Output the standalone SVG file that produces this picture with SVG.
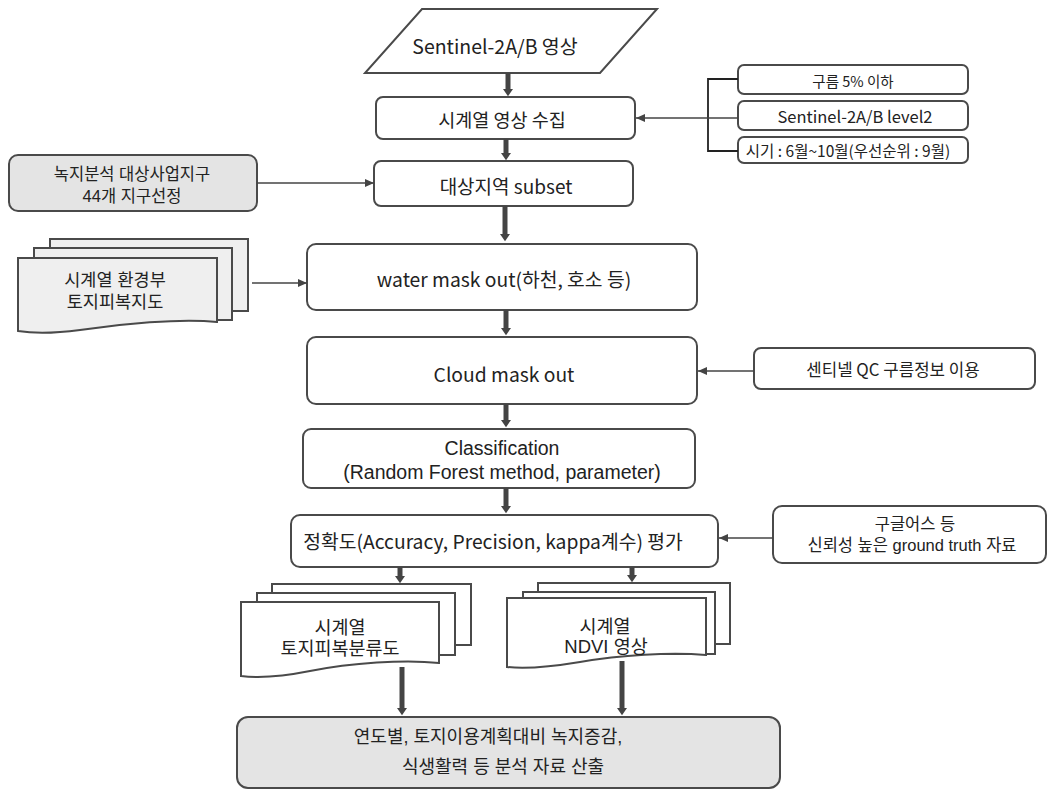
<svg xmlns="http://www.w3.org/2000/svg" width="1051" height="793" viewBox="0 0 1051 793">
<defs>
<style>
.box{fill:#fff;stroke:#4a4a4a;stroke-width:2}
.gbox{fill:#e4e4e4;stroke:#4a4a4a;stroke-width:2}
.doc{fill:#fff;stroke:#4a4a4a;stroke-width:2}
.gdoc{fill:#efefef;stroke:#4a4a4a;stroke-width:2}
text{font-family:"Noto Sans CJK KR","Noto Sans",sans-serif;fill:#222;text-anchor:middle;dominant-baseline:central}
text.ml{font-family:"Liberation Sans","Noto Sans CJK KR",sans-serif}
.thick{stroke:#444;stroke-width:5;fill:none}
.thin{stroke:#444;stroke-width:1.6;fill:none}
.br{stroke:#222;stroke-width:1.8;fill:none}
</style>
<marker id="ah" markerUnits="userSpaceOnUse" markerWidth="14" markerHeight="10" refX="0" refY="7" orient="auto" viewBox="0 0 10 14">
<path d="M0,0 L10,7 L0,14 z" fill="#444"/>
</marker>
<marker id="as" markerUnits="userSpaceOnUse" markerWidth="9" markerHeight="8" refX="9" refY="4" orient="auto" viewBox="0 0 9 8">
<path d="M0,0 L9,4 L0,8 z" fill="#444"/>
</marker>
</defs>

<g id="n-sentinel">
<polygon class="box" points="422,9 657,9 600,73 365,73"/>
<text x="495" y="45" font-size="19.5">Sentinel-2A/B 영상</text>
</g>

<g id="n-collect">
<rect class="box" x="376" y="97" width="259" height="42" rx="7"/>
<text x="502" y="119" font-size="18.5">시계열 영상 수집</text>
</g>

<g id="n-cond1">
<rect class="box" x="738" y="65" width="230" height="29" rx="6"/>
<text x="853" y="80" font-size="14.5">구름 5% 이하</text>
</g>
<g id="n-cond2">
<rect class="box" x="738" y="101" width="230" height="29" rx="6"/>
<text x="855" y="116" font-size="16.5">Sentinel-2A/B level2</text>
</g>
<g id="n-cond3">
<rect class="box" x="738" y="137" width="230" height="26" rx="6"/>
<text x="848" y="150" font-size="15.5">시기 : 6월~10월(우선순위 : 9월)</text>
</g>

<g id="n-district">
<rect class="gbox" x="9" y="155" width="248" height="56" rx="9"/>
<text class="ml" x="132" y="174" font-size="16.5">녹지분석 대상사업지구</text>
<text class="ml" x="132" y="196" font-size="16.5">44개 지구선정</text>
</g>

<g id="n-subset">
<rect class="box" x="374" y="161" width="259" height="45" rx="7"/>
<text x="506" y="185" font-size="19">대상지역 subset</text>
</g>

<g id="n-landcover">
<rect class="gdoc" x="50" y="239" width="198" height="72"/>
<rect class="gdoc" x="34" y="248" width="198" height="72"/>
<path class="gdoc" d="M18,258 H217 V322 C180,318 120,324 80,330 C50,334 30,333 18,331 Z"/>
<text class="ml" x="115" y="280" font-size="17.5">시계열 환경부</text>
<text class="ml" x="115" y="302" font-size="17.5">토지피복지도</text>
</g>

<g id="n-water">
<rect class="box" x="307" y="244" width="390" height="66" rx="9"/>
<text x="504" y="279" font-size="19.3">water mask out(하천, 호소 등)</text>
</g>

<g id="n-cloud">
<rect class="box" x="307" y="337" width="390" height="67" rx="9"/>
<text x="504" y="374" font-size="19.3">Cloud mask out</text>
</g>

<g id="n-qc">
<rect class="box" x="754" y="348" width="281" height="41" rx="7"/>
<text x="893" y="369" font-size="16.8">센티넬 QC 구름정보 이용</text>
</g>

<g id="n-class">
<rect class="box" x="303" y="429" width="392" height="59" rx="8"/>
<text class="ml" x="502" y="448" font-size="19.5">Classification</text>
<text class="ml" x="502" y="472" font-size="19.5">(Random Forest method, parameter)</text>
</g>

<g id="n-accuracy">
<rect class="box" x="291" y="515" width="427" height="52" rx="9"/>
<text x="493" y="541" font-size="19.3">정확도(Accuracy, Precision, kappa계수) 평가</text>
</g>

<g id="n-truth">
<rect class="box" x="773" y="506" width="273" height="57" rx="9"/>
<text class="ml" x="915" y="524" font-size="16.5">구글어스 등</text>
<text class="ml" x="912" y="545" font-size="16.5">신뢰성 높은 ground truth 자료</text>
</g>

<g id="n-lcmap">
<rect class="doc" x="272" y="584" width="199" height="61"/>
<rect class="doc" x="257" y="593" width="198" height="62"/>
<path class="doc" d="M241,602 H439 V663 C405,659 350,663 310,671 C280,677 258,678 241,676 Z"/>
<text class="ml" x="340" y="627" font-size="18.5">시계열</text>
<text class="ml" x="340" y="648" font-size="18.5">토지피복분류도</text>
</g>

<g id="n-ndvi">
<rect class="doc" x="538" y="583" width="192" height="61"/>
<rect class="doc" x="523" y="592" width="192" height="62"/>
<path class="doc" d="M507,598 H706 V655 C670,652 620,655 580,662 C550,667 525,669 507,667 Z"/>
<text class="ml" x="605" y="626" font-size="18.5">시계열</text>
<text class="ml" x="606" y="646" font-size="18.5">NDVI 영상</text>
</g>

<g id="n-output">
<rect class="gbox" x="237" y="717" width="543" height="71" rx="11"/>
<text class="ml" x="488" y="737" font-size="18">연도별, 토지이용계획대비  녹지증감,</text>
<text class="ml" x="503" y="767" font-size="18">식생활력 등 분석 자료 산출</text>
</g>

<g id="connectors">
<line class="thick" x1="508" y1="73" x2="508" y2="89" marker-end="url(#ah)"/>
<line class="thick" x1="506" y1="139" x2="506" y2="153" marker-end="url(#ah)"/>
<line class="thick" x1="505" y1="206" x2="505" y2="234" marker-end="url(#ah)"/>
<line class="thick" x1="506" y1="310" x2="506" y2="328" marker-end="url(#ah)"/>
<line class="thick" x1="506" y1="404" x2="506" y2="420" marker-end="url(#ah)"/>
<line class="thick" x1="506" y1="488" x2="506" y2="506" marker-end="url(#ah)"/>
<line class="thick" x1="400" y1="567" x2="400" y2="576" marker-end="url(#ah)"/>
<line class="thick" x1="632" y1="567" x2="632" y2="575" marker-end="url(#ah)"/>
<line class="thick" x1="402" y1="667" x2="402" y2="708" marker-end="url(#ah)"/>
<line class="thick" x1="622" y1="661" x2="622" y2="708" marker-end="url(#ah)"/>
<polyline class="br" points="738,79 708,79 708,151 738,151"/>
<line class="thin" x1="738" y1="118" x2="636" y2="118" marker-end="url(#as)"/>
<line class="thin" x1="257" y1="183" x2="374" y2="183" marker-end="url(#as)"/>
<line class="thin" x1="252" y1="283" x2="307" y2="283" marker-end="url(#as)"/>
<line class="thin" x1="754" y1="371" x2="698" y2="371" marker-end="url(#as)"/>
<line class="thin" x1="773" y1="538" x2="719" y2="538" marker-end="url(#as)"/>
</g>
</svg>
